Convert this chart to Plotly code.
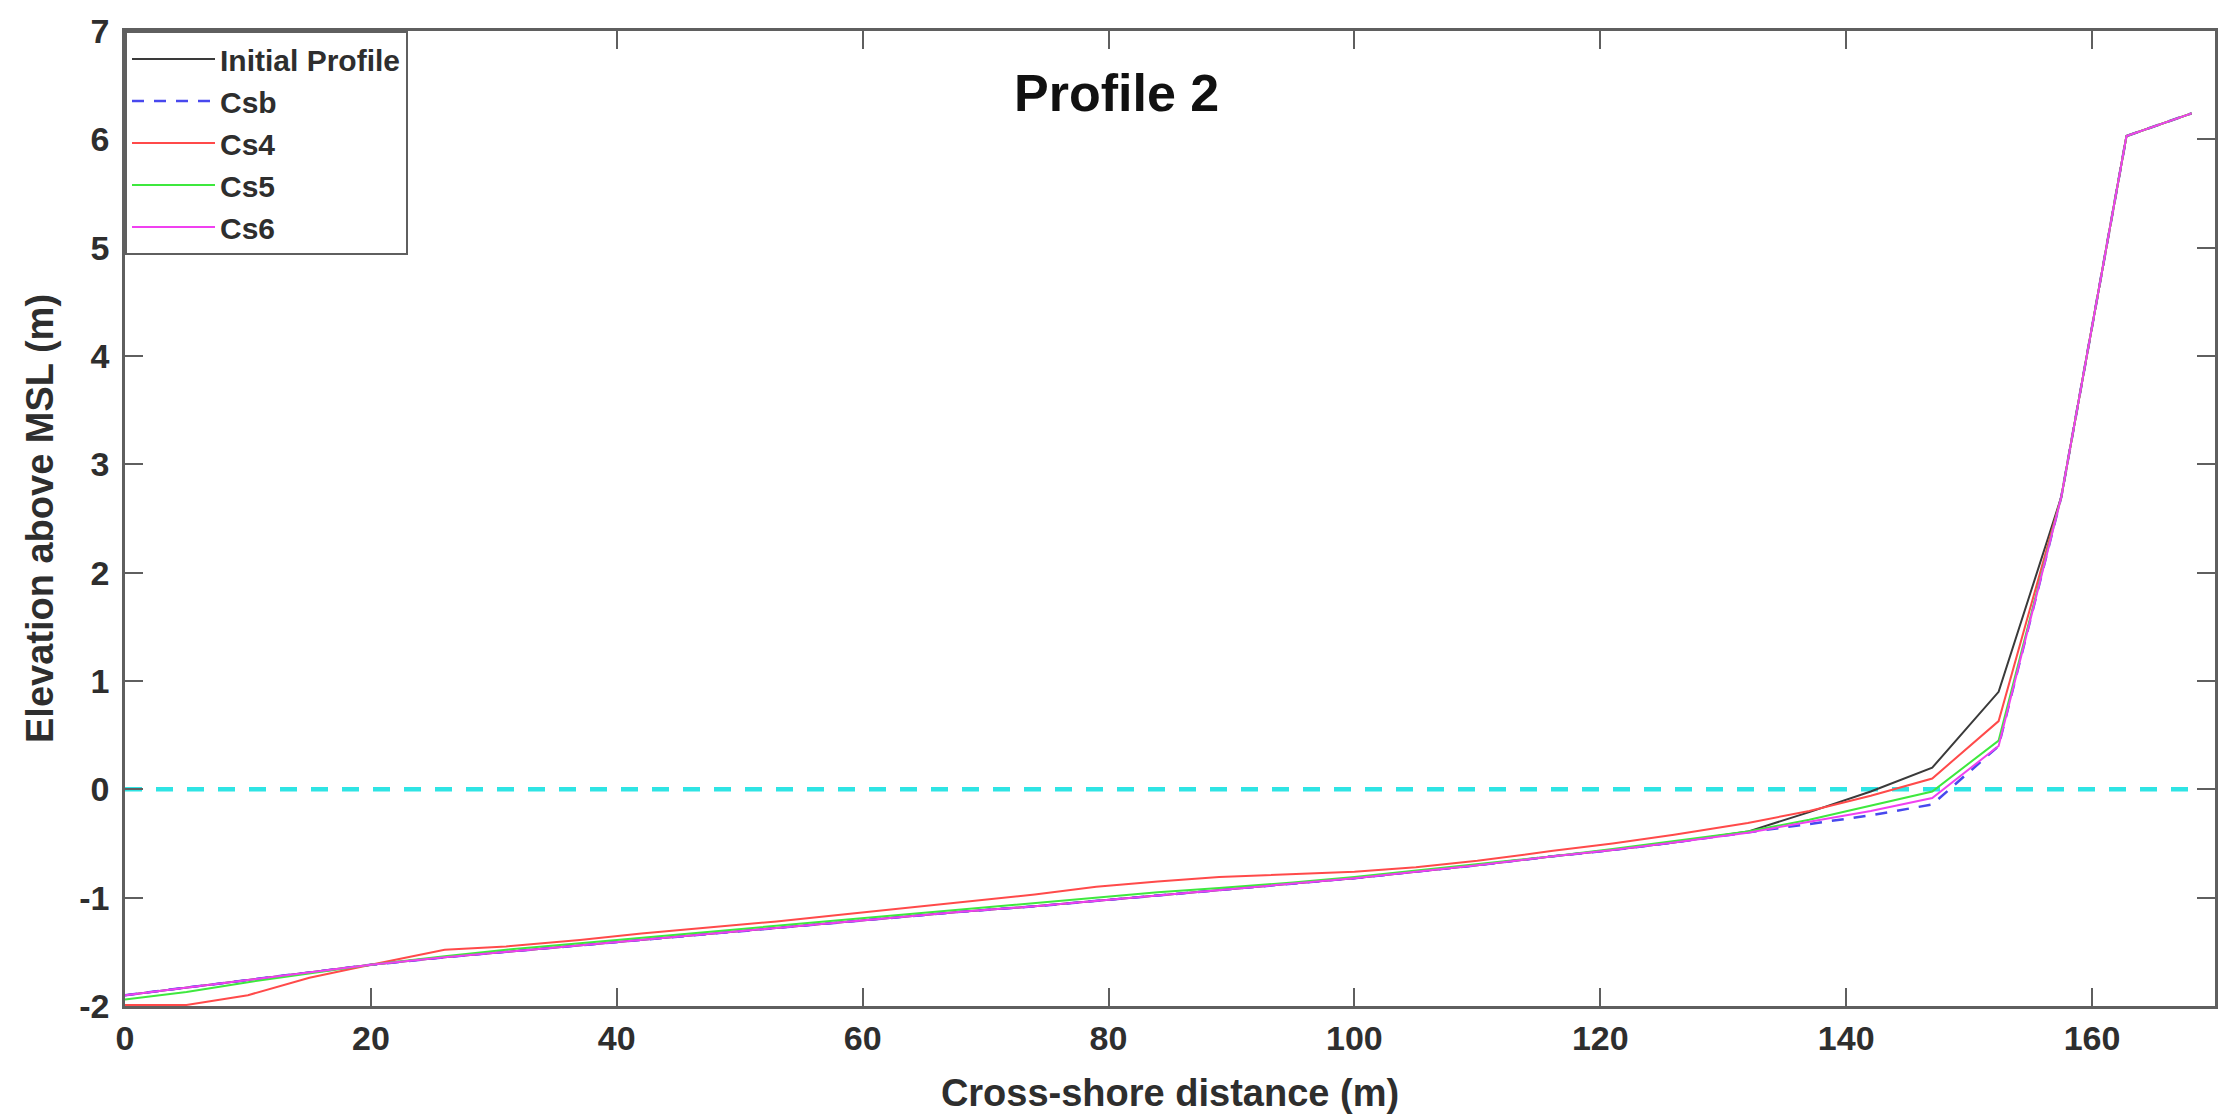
import plotly.graph_objects as go

# ---------------- data ----------------
x_dist = [0, 5, 10, 15, 20, 26, 31, 37, 42, 47, 53, 58, 63, 68, 74, 79, 84, 89, 95,
          100, 105, 110, 116, 121, 126, 132, 137, 142, 147, 152.4, 157.5, 162.8, 168.1]

initial_profile = [-1.90, -1.83, -1.76, -1.69, -1.62, -1.55, -1.50, -1.44, -1.39, -1.34,
                   -1.28, -1.23, -1.18, -1.13, -1.08, -1.03, -0.98, -0.93, -0.87, -0.82,
                   -0.76, -0.70, -0.62, -0.56, -0.49, -0.39, -0.21, -0.02, 0.20, 0.90,
                   2.70, 6.03, 6.24]
csb = [-1.90, -1.83, -1.76, -1.69, -1.62, -1.55, -1.50, -1.44, -1.39, -1.34,
       -1.28, -1.23, -1.18, -1.13, -1.08, -1.03, -0.98, -0.93, -0.87, -0.82,
       -0.76, -0.70, -0.62, -0.56, -0.49, -0.40, -0.32, -0.24, -0.14, 0.40,
       2.70, 6.03, 6.24]
cs4 = [-1.99, -1.99, -1.90, -1.74, -1.62, -1.48, -1.45, -1.39, -1.33, -1.28,
       -1.22, -1.16, -1.10, -1.04, -0.97, -0.90, -0.85, -0.81, -0.78, -0.76,
       -0.72, -0.66, -0.57, -0.50, -0.42, -0.31, -0.20, -0.06, 0.10, 0.63,
       2.70, 6.03, 6.24]
cs5 = [-1.94, -1.87, -1.78, -1.70, -1.62, -1.54, -1.48, -1.42, -1.37, -1.32,
       -1.26, -1.21, -1.16, -1.11, -1.05, -1.00, -0.95, -0.91, -0.86, -0.81,
       -0.75, -0.69, -0.62, -0.55, -0.48, -0.39, -0.28, -0.15, -0.02, 0.45,
       2.70, 6.03, 6.24]
cs6 = [-1.90, -1.83, -1.76, -1.69, -1.62, -1.55, -1.50, -1.44, -1.39, -1.34,
       -1.28, -1.23, -1.18, -1.13, -1.08, -1.03, -0.98, -0.93, -0.87, -0.82,
       -0.76, -0.70, -0.62, -0.56, -0.49, -0.40, -0.30, -0.20, -0.08, 0.40,
       2.70, 6.03, 6.24]

msl_x = [0, 168.1]
msl_y = [0, 0]

series_names = ["Initial Profile", "Csb", "Cs4", "Cs5", "Cs6"]
series_values = [initial_profile, csb, cs4, cs5, cs6]

x_ticks = [0, 20, 40, 60, 80, 100, 120, 140, 160]
x_ticktext = ["0", "20", "40", "60", "80", "100", "120", "140", "160"]
y_ticks = [-2, -1, 0, 1, 2, 3, 4, 5, 6, 7]
y_ticktext = ["-2", "-1", "0", "1", "2", "3", "4", "5", "6", "7"]

# ---------------- styles ----------------
styles = {
    "Initial Profile": dict(color="#3a3a3a", width=2, dash="solid"),
    "Csb": dict(color="#4848ee", width=2.5, dash="12px,10px"),
    "Cs4": dict(color="#ff4a4a", width=2, dash="solid"),
    "Cs5": dict(color="#3ee83e", width=2, dash="solid"),
    "Cs6": dict(color="#f040f0", width=2, dash="solid"),
}

FONT = "Liberation Sans, Arial, sans-serif"
TXT = "#2e2e2e"
AX = "#5f5f5f"

fig = go.Figure()

fig.add_trace(go.Scatter(x=msl_x, y=msl_y, mode="lines", showlegend=False,
                         line=dict(color="#2ee4e4", width=4.5, dash="17px,14px"),
                         hoverinfo="skip"))

for name, vals in zip(series_names, series_values):
    st = styles[name]
    fig.add_trace(go.Scatter(x=x_dist, y=vals, mode="lines", name=name,
                             legendgroup=name,
                             line=dict(color=st["color"], width=st["width"], dash=st["dash"])))

fig.add_annotation(text="Profile 2", xref="paper", yref="paper",
                   x=0.4745, y=0.936, xanchor="center", yanchor="middle",
                   showarrow=False,
                   font=dict(family=FONT, size=52, color="#111111", weight="bold"))

axis_common = dict(showline=True, mirror="ticks", linecolor=AX, linewidth=2.5,
                   ticks="inside", ticklen=18, tickwidth=2, tickcolor=AX,
                   showgrid=False, zeroline=False, automargin=False,
                   tickfont=dict(family=FONT, size=34, color=TXT, weight="bold"))

fig.update_layout(
    width=2228, height=1117, autosize=False,
    margin=dict(l=117, r=21, t=23, b=119),
    paper_bgcolor="white", plot_bgcolor="white",
    xaxis=dict(range=[0, 170], tickvals=x_ticks, ticktext=x_ticktext,
               ticklabelstandoff=0,
               title=dict(text="Cross-shore distance (m)",
                          font=dict(family=FONT, size=38, color=TXT, weight="bold"),
                          standoff=24),
               **axis_common),
    yaxis=dict(range=[-2, 7], tickvals=y_ticks, ticktext=y_ticktext,
               ticklabelstandoff=6,
               title=dict(text="Elevation above MSL (m)",
                          font=dict(family=FONT, size=38, color=TXT, weight="bold"),
                          standoff=14),
               **axis_common),
    legend=dict(x=0, y=1, xanchor="left", yanchor="top",
                bgcolor="white", bordercolor=AX, borderwidth=2,
                font=dict(family=FONT, size=30, color=TXT, weight="bold"),
                itemwidth=83, tracegroupgap=1, traceorder="normal"),
)

fig.write_html("out.html")
